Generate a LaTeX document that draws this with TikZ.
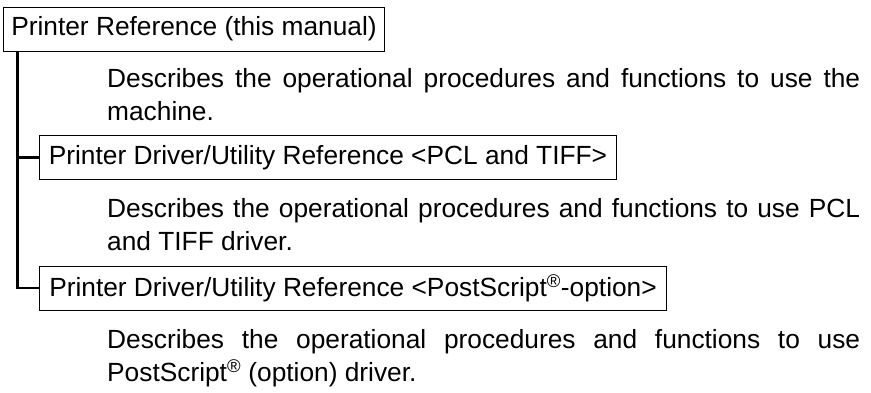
\documentclass[tikz,border=0pt]{standalone}
\usepackage{fontspec}
\setmainfont{Liberation Sans}
\begin{document}
\begin{tikzpicture}[x=1pt,y=-1pt,
  font=\fontsize{26.3}{33.5}\selectfont,
  titlebox/.style={draw=black, line width=1pt, minimum height=44pt, inner xsep=0pt, inner ysep=0pt, anchor=west},
  desc/.style={text width=753pt, align=justify, inner sep=0pt, anchor=base west},
  tree/.style={line width=2.3pt}]
\useasboundingbox (0,0) rectangle (871,392);
\node[titlebox, minimum width=381pt] (b1) at (3,29) {Printer Reference (this manual)};
\node[desc] (d1) at (107,87) {Describes the operational procedures and functions to use the\linebreak machine.};
\node[titlebox, minimum width=577pt] (b2) at (39,157.5) {Printer Driver/Utility Reference <PCL and TIFF>};
\node[desc] (d2) at (107,217) {Describes the operational procedures and functions to use PCL\linebreak and TIFF driver.};
\node[titlebox, minimum width=627pt] (b3) at (39,288) {Printer Driver/Utility Reference <PostScript\textsuperscript{®}-option>};
\node[desc] (d3) at (107,348) {Describes the operational procedures and functions to use\linebreak PostScript\textsuperscript{®} (option) driver.};
\coordinate (trunk) at ([xshift=14.5pt]b1.south west);
\draw[tree] (trunk) |- (b3.west);
\draw[tree] (trunk |- b2.west) -- (b2.west);
\end{tikzpicture}
\end{document}
